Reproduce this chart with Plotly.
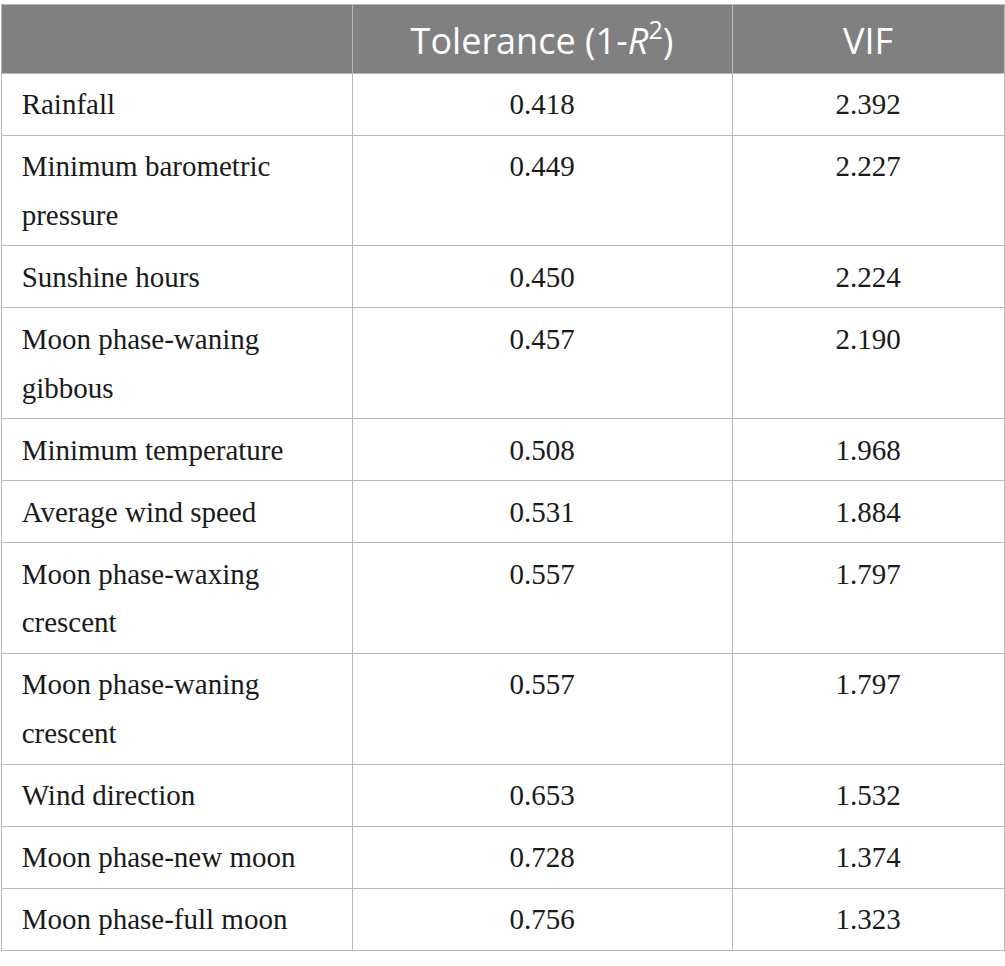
import plotly.graph_objects as go

# table content
variables = [
    "Rainfall",
    "Minimum barometric<br>pressure",
    "Sunshine hours",
    "Moon phase-waning<br>gibbous",
    "Minimum temperature",
    "Average wind speed",
    "Moon phase-waxing<br>crescent",
    "Moon phase-waning<br>crescent",
    "Wind direction",
    "Moon phase-new moon",
    "Moon phase-full moon",
]
tolerance = [0.418, 0.449, 0.450, 0.457, 0.508, 0.531, 0.557, 0.557, 0.653, 0.728, 0.756]
vif = [2.392, 2.227, 2.224, 2.190, 1.968, 1.884, 1.797, 1.797, 1.532, 1.374, 1.323]
headers = ["", "Tolerance (1-<i>R</i><sup>2</sup>)", "VIF"]

LINE = "#b8b8b8"
HEADER_BG = "#808080"
TEXT = "#1a1a1a"

BODY_PX = 29      # visible body text size
BASE_PX = 37.5    # base size of the cell text -> sets line spacing
NBSP = "\u00a0"


def span(text, px):
    return f'<span style="font-size:{px}px">{text}</span>'


def label_cell(text):
    # base-size nbsp keeps the first baseline low like the original,
    # a big trailing nbsp on the last line makes two-line rows as tall as the original.
    # the trailing <br> stops plotly from re-wrapping the markup on spaces
    lines = text.split("<br>")
    out = []
    for i, ln in enumerate(lines):
        s = NBSP + span(NBSP, 13) + span(ln, BODY_PX)
        if i == len(lines) - 1 and len(lines) > 1:
            s = s + span(NBSP, 59)
        out.append(s)
    return "<br>".join(out) + "<br>"


def number_cell(v):
    return NBSP + span(f"{v:.3f}", BODY_PX) + NBSP + "<br>"


def header_cell(text):
    if not text:
        return ""
    pad = span(NBSP, 39)
    return pad + text + pad + "<br>"


fig = go.Figure(go.Table(
    columnwidth=[351, 380, 272],
    header=dict(
        values=[header_cell(h) for h in headers],
        fill_color=HEADER_BG,
        line_color=LINE,
        line_width=1,
        font=dict(family="Open Sans", size=36, color="white"),
        align="center",
        height=68,
    ),
    cells=dict(
        values=[[label_cell(v) for v in variables],
                [number_cell(t) for t in tolerance],
                [number_cell(v) for v in vif]],
        fill_color="white",
        line_color=LINE,
        line_width=1,
        font=dict(family="Liberation Serif", size=BASE_PX, color=TEXT),
        align=["left", "center", "center"],
        height=62,
    ),
))

fig.update_layout(
    width=1005,
    height=966,
    margin=dict(l=1, r=1, t=4, b=0),
    paper_bgcolor="white",
)

fig.write_html("out.html", config={"displayModeBar": False},
               post_script="document.body.style.margin='0';")
